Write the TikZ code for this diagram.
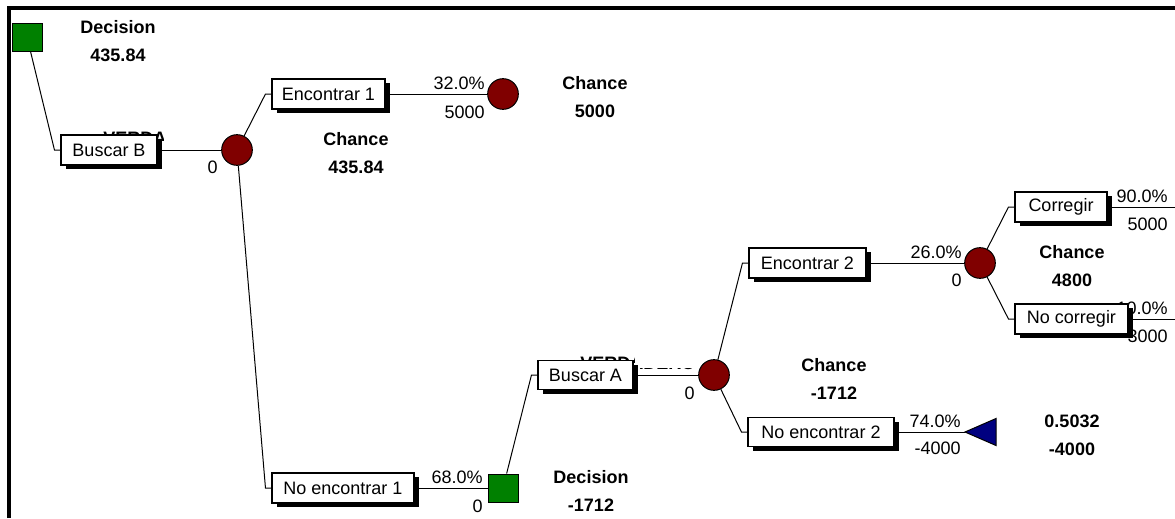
\documentclass[tikz,border=0pt]{standalone}
\usepackage{fontspec}
\setmainfont{Liberation Sans}
\usetikzlibrary{calc,shadows}
\definecolor{decgreen}{RGB}{0,128,0}
\definecolor{chancered}{RGB}{128,0,0}
\definecolor{termblue}{RGB}{0,0,128}

\begin{document}
\begin{tikzpicture}[x=0.75pt,y=-0.75pt,
  font=\fontsize{13.5}{16}\selectfont,
  branch/.style={draw=black, line width=0.8pt, fill=white, inner sep=0pt,
    minimum height=22.5pt,
    drop shadow={shadow xshift=3.75pt, shadow yshift=-3pt, fill=black, opacity=1}},
  chancenode/.style={circle, draw=black, line width=0.75pt, fill=chancered,
    minimum size=23pt, inner sep=0pt},
  decnode/.style={rectangle, draw=black, line width=0.75pt, fill=decgreen,
    minimum width=22.5pt, minimum height=21pt, inner sep=0pt},
  edge/.style={line width=0.75pt},
  lbl/.style={anchor=base east, inner sep=0pt},
  info/.style={anchor=base, inner sep=0pt, font=\fontsize{13.5}{16}\selectfont\bfseries},
  hidden/.style={anchor=base west, inner sep=0pt, font=\fontsize{13.5}{16}\selectfont\bfseries},
]
\useasboundingbox (0,0) rectangle (1175,518);
\clip (0,0) rectangle (1175,518);

% frame
\draw[line width=3pt] (9,518) -- (9,8) -- (1175,8);

% partly covered branch captions
\begin{scope}
  \clip (100,125) rectangle (163,140);
  \node[hidden] (hb) at (103,144) {VERDADERO};
\end{scope}
\begin{scope}
  \clip (575,350) rectangle (634,362) (634,367.5) rectangle (700,372);
  \node[hidden] (ha) at (580,369) {VERDADERO};
\end{scope}

% probabilities and payoffs
\node[lbl] (v-bB)  at (218,173.5) {0};
\node[lbl] (p-e1)  at (485,89.5)  {32.0\%};
\node[lbl] (v-e1)  at (485,118)   {5000};
\node[lbl] (p-ne1) at (483,483.5) {68.0\%};
\node[lbl] (v-ne1) at (483,512)   {0};
\node[lbl] (v-bA)  at (695,399)   {0};
\node[lbl] (p-e2)  at (962,258.5) {26.0\%};
\node[lbl] (v-e2)  at (962,286.5) {0};
\node[lbl] (p-ne2) at (961,427.5) {74.0\%};
\node[lbl] (v-ne2) at (961,454)   {-4000};
\node[lbl] (p-co)  at (1168,202.5) {90.0\%};
\node[lbl] (v-co)  at (1168,230.5) {5000};
\node[lbl] (p-nc)  at (1168,314.5) {10.0\%};
\node[lbl] (v-nc)  at (1168,342.5) {3000};

% node summaries
\node[info] (i-d0a) at (118,33.5)  {Decision};
\node[info] (i-d0b) at (118,61.5)  {435.84};
\node[info] (i-c1a) at (356,145.5) {Chance};
\node[info] (i-c1b) at (356,173.5) {435.84};
\node[info] (i-c2a) at (595,89.5)  {Chance};
\node[info] (i-c2b) at (595,117.5) {5000};
\node[info] (i-d1a) at (591,483.5) {Decision};
\node[info] (i-d1b) at (591,511.5) {-1712};
\node[info] (i-c3a) at (834,371.5) {Chance};
\node[info] (i-c3b) at (834,399.5) {-1712};
\node[info] (i-c4a) at (1072,258.5) {Chance};
\node[info] (i-c4b) at (1072,286.5) {4800};
\node[info] (i-t1a) at (1072,427.5) {0.5032};
\node[info] (i-t1b) at (1072,455.5) {-4000};

% tree nodes
\node[decnode] (d0) at (27,37) {};
\node[branch, minimum width=72pt] (bB) at (109,150) {Buscar B};
\node[chancenode] (c1) at (237,150) {};
\node[branch, minimum width=84.75pt] (e1) at (328.5,94) {Encontrar 1};
\node[chancenode] (c2) at (503,94) {};
\node[branch, minimum width=106.5pt] (ne1) at (343,488) {No encontrar 1};
\node[decnode] (d1) at (503,488) {};
\node[branch, minimum width=71.25pt, minimum height=21.75pt] (bA) at (585.5,375) {Buscar A};
\node[chancenode] (c3) at (714,375) {};
\node[branch, minimum width=87.75pt] (e2) at (807.5,263) {Encontrar 2};
\node[chancenode] (c4) at (980,263) {};
\node[branch, minimum width=69pt] (co) at (1061,207) {Corregir};
\node[branch, minimum width=84.75pt] (nc) at (1071.5,319) {No corregir};
\node[branch, minimum width=109.5pt, minimum height=21.75pt] (ne2) at (821,432) {No encontrar 2};
\coordinate (t1) at (965,432);
\draw[line width=0.75pt, fill=termblue] (t1) -- ++(31,-13.5) -- ++(0,27) -- cycle;
\coordinate (co-end) at (1175,207);
\coordinate (nc-end) at (1175,319);

% connectors
\draw[edge] (d0) -- ($(bB.west)+(-6,0)$) -- (bB.west);
\draw[edge] (bB.east) -- (c1);
\draw[edge] (c1) -- ($(e1.west)+(-6,0)$) -- (e1.west);
\draw[edge] (e1.east) -- (c2);
\draw[edge] (c1) -- ($(ne1.west)+(-6,0)$) -- (ne1.west);
\draw[edge] (ne1.east) -- (d1);
\draw[edge] (d1) -- ($(bA.west)+(-6,0)$) -- (bA.west);
\draw[edge] (bA.east) -- (c3);
\draw[edge] (c3) -- ($(e2.west)+(-6,0)$) -- (e2.west);
\draw[edge] (e2.east) -- (c4);
\draw[edge] (c4) -- ($(co.west)+(-6,0)$) -- (co.west);
\draw[edge] (co.east) -- (co-end);
\draw[edge] (c4) -- ($(nc.west)+(-6,0)$) -- (nc.west);
\draw[edge] (nc.east) -- (nc-end);
\draw[edge] (c3) -- ($(ne2.west)+(-6,0)$) -- (ne2.west);
\draw[edge] (ne2.east) -- (t1);
\end{tikzpicture}
\end{document}
